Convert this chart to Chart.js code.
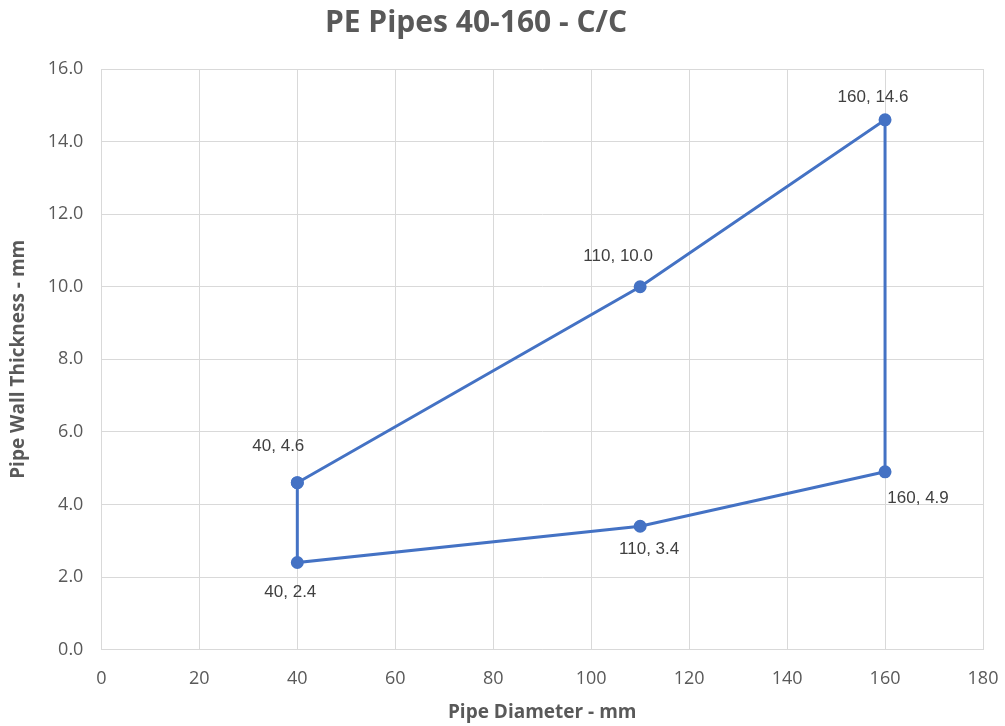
<!DOCTYPE html>
<html>
<head>
<meta charset="utf-8">
<script src="https://cdn.jsdelivr.net/npm/chart.js@4"></script>
<style>
  html, body { margin: 0; padding: 0; background: #fff; }
  #wrap { width: 1005px; height: 726px; }
</style>
</head>
<body>
<div id="wrap"><canvas id="pipeChart" width="1005" height="726"></canvas></div>
<script>
// outline of the range, walked round as a closed loop
var diameters = [40, 110, 160, 160, 110, 40, 40];
var thickness = [4.6, 10.0, 14.6, 4.9, 3.4, 2.4, 4.6];
var pointLabels = ['40, 4.6', '110, 10.0', '160, 14.6', '160, 4.9', '110, 3.4', '40, 2.4', ''];
// where each label sits relative to its point (px)
var labelShift = [[-19, -36], [-22, -30], [-12, -22], [33, 27], [9, 23], [-7, 30], [0, 0]];
var chartTitle = 'PE Pipes 40-160 - C/C';

var points = diameters.map(function(d, i) { return { x: d, y: thickness[i] }; });
var fam = '"Open Sans", "Liberation Sans", sans-serif';

var labelPlugin = {
  id: 'pointLabels',
  afterDatasetsDraw: function(chart) {
    var ctx = chart.ctx;
    var xs = chart.scales.x, ys = chart.scales.y;
    ctx.save();
    ctx.font = '17px "Liberation Sans", Arial, sans-serif';
    ctx.fillStyle = '#404040';
    ctx.textAlign = 'center';
    ctx.textBaseline = 'middle';
    points.forEach(function(p, i) {
      if (!pointLabels[i]) return;
      ctx.fillText(pointLabels[i], xs.getPixelForValue(p.x) + labelShift[i][0], ys.getPixelForValue(p.y) + labelShift[i][1]);
    });
    // title sits a bit left of centre in the original
    ctx.font = 'bold 30px ' + fam;
    ctx.fillStyle = '#595959';
    ctx.fillText(chartTitle, 476, 23);
    ctx.restore();
  }
};

var ctx = document.getElementById('pipeChart').getContext('2d');
var pipeChart = new Chart(ctx, {
  type: 'scatter',
  data: {
    datasets: [{
      label: 'PE Pipes',
      data: points,
      showLine: true,
      borderColor: '#4472C4',
      backgroundColor: '#4472C4',
      borderWidth: 3,
      pointRadius: 5,
      pointHoverRadius: 5
    }]
  },
  options: {
    responsive: false,
    animation: false,
    layout: { padding: { left: 7, right: 0, top: 69, bottom: 2 } },
    plugins: {
      legend: { display: false },
      tooltip: { enabled: false },
      title: { display: false }
    },
    scales: {
      x: {
        type: 'linear',
        min: 0, max: 180,
        ticks: { stepSize: 20, color: '#595959', font: { family: fam, size: 18 }, padding: 18 },
        grid: { color: '#d9d9d9', drawTicks: false },
        border: { color: '#d9d9d9' },
        afterFit: function(scale) { scale.paddingRight = 22; },
        title: {
          display: true,
          text: 'Pipe Diameter - mm',
          color: '#595959',
          font: { family: fam, size: 19, weight: 'bold' },
          padding: { top: -6, bottom: 0 }
        }
      },
      y: {
        min: 0, max: 16,
        ticks: {
          stepSize: 2, color: '#595959', padding: 18,
          font: { family: fam, size: 18 },
          callback: function(v) { return v.toFixed(1); }
        },
        grid: { color: '#d9d9d9', drawTicks: false },
        border: { color: '#d9d9d9' },
        title: {
          display: true,
          text: 'Pipe Wall Thickness - mm',
          color: '#595959',
          font: { family: fam, size: 19, weight: 'bold' },
          padding: { top: 0, bottom: 0 }
        }
      }
    }
  },
  plugins: [labelPlugin]
});
</script>
</body>
</html>
